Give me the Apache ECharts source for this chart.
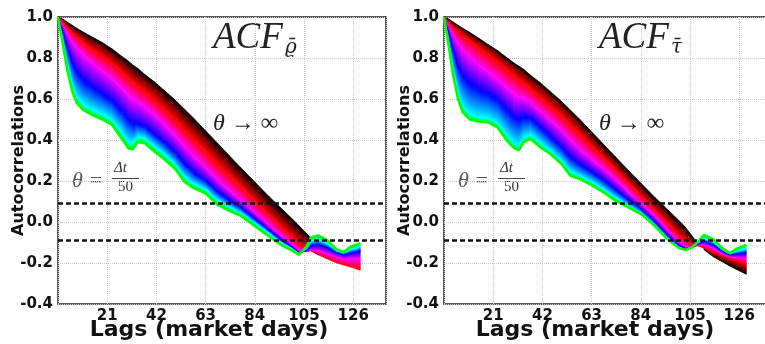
<!DOCTYPE html>
<html>
<head>
<meta charset="utf-8">
<script src="https://cdn.jsdelivr.net/npm/echarts@6/dist/echarts.min.js"></script>
<style>
  html, body { margin: 0; padding: 0; background: #fff; overflow: hidden; }
  #main { width: 780px; height: 344px; }
</style>
</head>
<body>
<div id="main"></div>
<script>
// lags (market days) where the curves were read
var lags = [0, 2, 4, 6, 8, 11, 15, 19, 23, 27, 30, 32, 34, 37, 41, 45, 50, 54, 58, 63,
  68, 73, 78, 84, 90, 95, 100, 103, 106, 108, 111, 115, 119, 122, 125, 129];

// left panel (ACF of rho bar), curves from theta -> infinity (black) down to theta = dt/50 (green)
var leftBlack = [1, 0.99, 0.975, 0.96, 0.945, 0.925, 0.9, 0.875, 0.845, 0.81, 0.785, 0.765, 0.75, 0.72, 0.685, 0.645, 0.595, 0.55, 0.505, 0.445,
  0.385, 0.325, 0.265, 0.195, 0.125, 0.07, 0.015, -0.02, -0.055, -0.08, -0.16, -0.18, -0.2, -0.21, -0.22, -0.235];
var leftDark = [1, 0.985, 0.965, 0.945, 0.93, 0.905, 0.875, 0.85, 0.815, 0.78, 0.75, 0.73, 0.71, 0.685, 0.65, 0.605, 0.555, 0.505, 0.46, 0.4,
  0.34, 0.28, 0.22, 0.15, 0.08, 0.025, -0.03, -0.065, -0.09, -0.11, -0.16, -0.18, -0.2, -0.21, -0.22, -0.235];
var leftRed = [1, 0.975, 0.95, 0.925, 0.905, 0.875, 0.84, 0.81, 0.775, 0.735, 0.705, 0.685, 0.665, 0.64, 0.6, 0.555, 0.5, 0.45, 0.405, 0.345,
  0.285, 0.23, 0.175, 0.105, 0.04, -0.02, -0.075, -0.105, -0.125, -0.14, -0.16, -0.18, -0.2, -0.21, -0.22, -0.235];
var leftMagenta = [1, 0.96, 0.92, 0.88, 0.85, 0.815, 0.77, 0.735, 0.7, 0.655, 0.62, 0.6, 0.585, 0.56, 0.525, 0.48, 0.42, 0.37, 0.32, 0.265,
  0.205, 0.155, 0.105, 0.045, -0.015, -0.065, -0.11, -0.14, -0.145, -0.14, -0.14, -0.155, -0.17, -0.18, -0.18, -0.18];
var leftBlue = [1, 0.93, 0.85, 0.78, 0.73, 0.69, 0.655, 0.625, 0.59, 0.545, 0.5, 0.48, 0.48, 0.465, 0.43, 0.39, 0.34, 0.285, 0.24, 0.2,
  0.15, 0.105, 0.07, 0.015, -0.04, -0.085, -0.125, -0.15, -0.14, -0.115, -0.11, -0.125, -0.15, -0.16, -0.15, -0.14];
var leftCyan = [1, 0.89, 0.77, 0.67, 0.61, 0.57, 0.545, 0.525, 0.5, 0.44, 0.39, 0.385, 0.415, 0.41, 0.37, 0.335, 0.28, 0.22, 0.185, 0.16,
  0.105, 0.075, 0.045, -0.005, -0.055, -0.1, -0.13, -0.155, -0.13, -0.095, -0.085, -0.105, -0.14, -0.15, -0.135, -0.12];
var leftGreen = [1, 0.87, 0.74, 0.64, 0.58, 0.545, 0.52, 0.5, 0.475, 0.41, 0.36, 0.355, 0.39, 0.385, 0.345, 0.31, 0.26, 0.195, 0.165, 0.14,
  0.085, 0.055, 0.03, -0.02, -0.07, -0.11, -0.14, -0.16, -0.12, -0.075, -0.065, -0.09, -0.135, -0.145, -0.12, -0.105];

// right panel (ACF of tau bar)
var rightBlack = [1, 0.99, 0.975, 0.96, 0.945, 0.925, 0.895, 0.865, 0.835, 0.8, 0.775, 0.76, 0.745, 0.715, 0.68, 0.64, 0.59, 0.545, 0.5, 0.44,
  0.38, 0.32, 0.26, 0.19, 0.12, 0.065, 0.01, -0.025, -0.07, -0.1, -0.135, -0.17, -0.195, -0.215, -0.232, -0.255];
var rightDark = [1, 0.985, 0.965, 0.95, 0.935, 0.91, 0.88, 0.85, 0.815, 0.78, 0.755, 0.735, 0.72, 0.69, 0.655, 0.615, 0.565, 0.52, 0.47, 0.41,
  0.35, 0.29, 0.23, 0.16, 0.09, 0.035, -0.025, -0.055, -0.09, -0.105, -0.13, -0.16, -0.18, -0.195, -0.21, -0.23];
var rightRed = [1, 0.975, 0.95, 0.93, 0.91, 0.885, 0.85, 0.815, 0.78, 0.74, 0.715, 0.695, 0.68, 0.65, 0.61, 0.57, 0.52, 0.475, 0.43, 0.37,
  0.315, 0.26, 0.2, 0.13, 0.06, 0, -0.06, -0.09, -0.11, -0.115, -0.125, -0.15, -0.165, -0.18, -0.19, -0.205];
var rightMagenta = [1, 0.955, 0.91, 0.87, 0.84, 0.805, 0.765, 0.73, 0.695, 0.655, 0.625, 0.61, 0.605, 0.58, 0.54, 0.5, 0.45, 0.4, 0.355, 0.305,
  0.26, 0.21, 0.155, 0.09, 0.03, -0.035, -0.095, -0.12, -0.125, -0.115, -0.11, -0.13, -0.155, -0.17, -0.175, -0.175];
var rightBlue = [1, 0.92, 0.83, 0.76, 0.71, 0.675, 0.645, 0.625, 0.595, 0.545, 0.51, 0.5, 0.51, 0.505, 0.465, 0.42, 0.365, 0.315, 0.28, 0.245,
  0.205, 0.16, 0.115, 0.065, 0, -0.06, -0.115, -0.13, -0.125, -0.11, -0.095, -0.11, -0.145, -0.16, -0.155, -0.15];
var rightCyan = [1, 0.88, 0.74, 0.63, 0.565, 0.525, 0.51, 0.505, 0.48, 0.42, 0.38, 0.37, 0.41, 0.425, 0.385, 0.35, 0.3, 0.245, 0.225, 0.195,
  0.16, 0.12, 0.085, 0.045, -0.015, -0.075, -0.12, -0.135, -0.123, -0.105, -0.08, -0.098, -0.135, -0.155, -0.142, -0.13];
var rightGreen = [1, 0.86, 0.71, 0.6, 0.535, 0.5, 0.49, 0.485, 0.46, 0.395, 0.36, 0.35, 0.39, 0.405, 0.365, 0.335, 0.285, 0.225, 0.21, 0.18,
  0.145, 0.105, 0.075, 0.04, -0.02, -0.08, -0.125, -0.137, -0.122, -0.1, -0.063, -0.085, -0.13, -0.152, -0.13, -0.112];

// significance band and axis ticks
var bandLevels = [0.09, -0.09];
var lagTicks = [21, 42, 63, 84, 105, 126];
var curveColors = ['#00ff00', '#00ffff', '#0000ff', '#ff00ff', '#ff0000', '#7a0000', '#000000'];

var leftCurves = [leftGreen, leftCyan, leftBlue, leftMagenta, leftRed, leftDark, leftBlack];
var rightCurves = [rightGreen, rightCyan, rightBlue, rightMagenta, rightRed, rightDark, rightBlack];

var chart = echarts.init(document.getElementById('main'));

function bandData(lo, hi) {
  var d = [];
  for (var i = 0; i < lags.length - 1; i++) {
    d.push([lags[i], lags[i + 1], lo[i], lo[i + 1], hi[i], hi[i + 1]]);
  }
  return d;
}

// fill between two neighbouring curves, colour running across the band
function bandRenderer(cLo, cHi) {
  return function (params, api) {
    var p0 = api.coord([api.value(0), api.value(2)]);
    var p1 = api.coord([api.value(1), api.value(3)]);
    var q1 = api.coord([api.value(1), api.value(5)]);
    var q0 = api.coord([api.value(0), api.value(4)]);
    var lx = (p0[0] + p1[0]) / 2, ly = (p0[1] + p1[1]) / 2;
    var ux = (q0[0] + q1[0]) / 2, uy = (q0[1] + q1[1]) / 2;
    var dx = (p1[0] - p0[0]) + (q1[0] - q0[0]);
    var dy = (p1[1] - p0[1]) + (q1[1] - q0[1]);
    var len = Math.sqrt(dx * dx + dy * dy) || 1;
    var nx = -dy / len, ny = dx / len;
    var t = (ux - lx) * nx + (uy - ly) * ny;
    if (Math.abs(t) < 0.3) return;
    var grad = new echarts.graphic.LinearGradient(lx, ly, lx + nx * t, ly + ny * t, [
      { offset: 0, color: cLo }, { offset: 1, color: cHi }
    ], true);
    return {
      type: 'polygon',
      shape: { points: [p0, p1, q1, q0] },
      style: { fill: grad, stroke: grad, lineWidth: 0.8 }
    };
  };
}

function panelSeries(curves, idx) {
  var out = [];
  // darkest band first, green band last so it stays on top where curves cross
  for (var k = curves.length - 2; k >= 0; k--) {
    out.push({
      type: 'custom',
      xAxisIndex: idx, yAxisIndex: idx,
      silent: true,
      renderItem: bandRenderer(curveColors[k], curveColors[k + 1]),
      encode: { x: [0, 1], y: [2, 3, 4, 5] },
      data: bandData(curves[k], curves[k + 1]),
      z: 2
    });
  }
  out.push({
    type: 'line',
    xAxisIndex: idx, yAxisIndex: idx,
    data: lags.map(function (l, i) { return [l, curves[0][i]]; }),
    showSymbol: false, silent: true,
    lineStyle: { color: '#00ff00', width: 2.5 },
    z: 3
  });
  bandLevels.forEach(function (b) {
    out.push({
      type: 'line',
      xAxisIndex: idx, yAxisIndex: idx,
      data: [[0, b], [140, b]],
      showSymbol: false, silent: true,
      lineStyle: { color: '#111', width: 2.5, type: [5, 3] },
      z: 5
    });
  });
  return out;
}

var labelFont = { fontFamily: 'DejaVu Sans', fontWeight: 'bold', fontSize: 15, color: '#111' };
var yNameFont = { fontFamily: 'DejaVu Sans', fontWeight: 'bold', fontSize: 16, color: '#111' };
var xNameFont = { fontFamily: 'DejaVu Sans', fontWeight: 'bold', fontSize: 22, color: '#111', padding: [0, 26, 0, 0] };

function xAx(idx) {
  return {
    gridIndex: idx, type: 'value', min: 0, max: 140, interval: 21,
    name: 'Lags (market days)', nameLocation: 'middle', nameGap: 15, nameTextStyle: xNameFont,
    nameMoveOverlap: false,
    axisLine: { show: false }, axisTick: { show: false },
    axisLabel: Object.assign({ margin: 5, formatter: function (v) { return lagTicks.indexOf(v) >= 0 ? String(v) : ''; } }, labelFont),
    splitLine: { show: true, lineStyle: { color: '#c8c8c8', type: 'dotted', width: 1 } }
  };
}
function yAx(idx) {
  return {
    gridIndex: idx, type: 'value', min: -0.4, max: 1.0, interval: 0.2,
    name: 'Autocorrelations', nameLocation: 'middle', nameGap: 31, nameTextStyle: yNameFont,
    nameMoveOverlap: false,
    axisLine: { show: false }, axisTick: { show: false },
    axisLabel: Object.assign({ margin: 5, formatter: function (v) { return v.toFixed(1); } }, labelFont),
    splitLine: { show: true, lineStyle: { color: '#c8c8c8', type: 'dotted', width: 1 } }
  };
}

function annotations(dx, sub) {
  var serif = 'Liberation Serif';
  return [
    { type: 'text', x: 213 + dx, y: 20, style: { text: 'ACF', font: 'italic 37px ' + serif, fill: '#222' } },
    { type: 'text', x: 285 + dx, y: 38, style: { text: sub, font: 'italic 20px DejaVu Serif', fill: '#222' } },
    { type: 'text', x: 213 + dx, y: 112, style: { text: 'θ → ∞', font: 'italic 24px ' + serif, fill: '#222' } },
    { type: 'text', x: 72 + dx, y: 170, style: { text: 'θ =', font: 'italic 22px ' + serif, fill: '#555' } },
    { type: 'text', x: 114 + dx, y: 161, style: { text: 'Δt', font: 'italic 15px ' + serif, fill: '#333' } },
    { type: 'line', shape: { x1: 112 + dx, y1: 178.5, x2: 139 + dx, y2: 178.5 }, style: { stroke: '#444', lineWidth: 1 } },
    { type: 'text', x: 118 + dx, y: 180, style: { text: '50', font: '15px ' + serif, fill: '#333' } }
  ];
}

var gridBase = { top: 17, width: 328, height: 287, show: true, borderColor: '#222', borderWidth: 1.5,
  backgroundColor: 'transparent', containLabel: false, outerBoundsMode: 'none' };

var option = {
  animation: false,
  backgroundColor: '#fff',
  grid: [
    Object.assign({ left: 58 }, gridBase),
    Object.assign({ left: 444 }, gridBase)
  ],
  xAxis: [xAx(0), xAx(1)],
  yAxis: [yAx(0), yAx(1)],
  series: panelSeries(leftCurves, 0).concat(panelSeries(rightCurves, 1)),
  graphic: annotations(0, 'ϱ\u0304').concat(annotations(386, 'τ\u0304'))
};

chart.setOption(option);
</script>
</body>
</html>
